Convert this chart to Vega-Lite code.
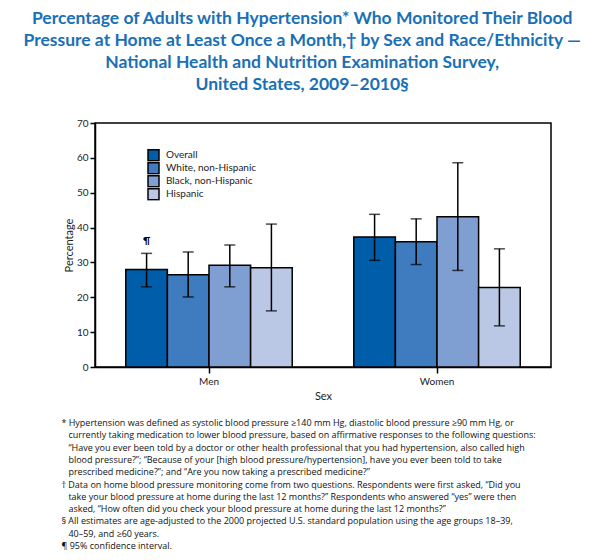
{
  "$schema": "https://vega.github.io/schema/vega-lite/v6.json",
  "background": "white",
  "padding": {"left": 22, "top": 9, "right": 5, "bottom": 5},
  "title": {
    "text": [
      "Percentage of Adults with Hypertension* Who Monitored Their Blood",
      "Pressure at Home at Least Once a Month,† by Sex and Race/Ethnicity —",
      "National Health and Nutrition Examination Survey,",
      "United States, 2009–2010§"
    ],
    "font": "Lato",
    "fontSize": 17.5,
    "fontWeight": "bold",
    "color": "#1A6FB5",
    "lineHeight": 22,
    "anchor": "middle",
    "dx": -4,
    "offset": 24
  },
  "datasets": {
    "bp": [
      {"sex": "Men", "group": "Overall", "value": 28.0, "lo": 23.0, "hi": 32.6, "note": "¶"},
      {"sex": "Men", "group": "White, non-Hispanic", "value": 26.5, "lo": 20.1, "hi": 33.0, "note": ""},
      {"sex": "Men", "group": "Black, non-Hispanic", "value": 29.2, "lo": 23.0, "hi": 35.0, "note": ""},
      {"sex": "Men", "group": "Hispanic", "value": 28.5, "lo": 16.1, "hi": 41.0, "note": ""},
      {"sex": "Women", "group": "Overall", "value": 37.3, "lo": 30.6, "hi": 43.8, "note": ""},
      {"sex": "Women", "group": "White, non-Hispanic", "value": 35.9, "lo": 29.4, "hi": 42.5, "note": ""},
      {"sex": "Women", "group": "Black, non-Hispanic", "value": 43.1, "lo": 27.7, "hi": 58.6, "note": ""},
      {"sex": "Women", "group": "Hispanic", "value": 22.8, "lo": 11.8, "hi": 33.9, "note": ""}
    ]
  },
  "config": {
    "font": "Lato",
    "view": {"stroke": "black", "strokeWidth": 1.5},
    "axis": {
      "grid": false,
      "domainColor": "black",
      "domainWidth": 1.5,
      "tickColor": "black",
      "tickWidth": 1.5,
      "labelColor": "#222",
      "labelFontSize": 10,
      "titleFontSize": 11,
      "titleFontWeight": "normal",
      "titleColor": "#222"
    }
  },
  "vconcat": [
    {
      "width": 456,
      "height": 244,
      "data": {"name": "bp"},
      "title": {
        "text": [
          "* Hypertension was defined as systolic blood pressure ≥140 mm Hg, diastolic blood pressure ≥90 mm Hg, or",
          "\u200b\u00a0\u00a0\u00a0currently taking medication to lower blood pressure, based on affirmative responses to the following questions:",
          "\u200b\u00a0\u00a0\u00a0“Have you ever been told by a doctor or other health professional that you had hypertension, also called high",
          "\u200b\u00a0\u00a0\u00a0blood pressure?”; “Because of your [high blood pressure/hypertension], have you ever been told to take",
          "\u200b\u00a0\u00a0\u00a0prescribed medicine?”; and “Are you now taking a prescribed medicine?”",
          "† Data on home blood pressure monitoring come from two questions. Respondents were first asked, “Did you",
          "\u200b\u00a0\u00a0\u00a0take your blood pressure at home during the last 12 months?” Respondents who answered “yes” were then",
          "\u200b\u00a0\u00a0\u00a0asked, “How often did you check your blood pressure at home during the last 12 months?”",
          "§ All estimates are age-adjusted to the 2000 projected U.S. standard population using the age groups 18–39,",
          "\u200b\u00a0\u00a0\u00a040–59, and ≥60 years.",
          "¶ 95% confidence interval."
        ],
        "orient": "bottom",
        "anchor": "start",
        "font": "Open Sans",
        "fontSize": 9,
        "fontWeight": "normal",
        "color": "#111",
        "lineHeight": 12.3,
        "dx": -2,
        "offset": 18
      },
      "encoding": {
        "x": {
          "field": "sex",
          "type": "nominal",
          "title": "Sex",
          "scale": {"paddingInner": 0.27, "paddingOuter": 0.135},
          "axis": {"labelAngle": 0, "tickSize": 6, "titlePadding": 4, "labelPadding": 3}
        },
        "xOffset": {
          "field": "group",
          "type": "nominal",
          "sort": ["Overall", "White, non-Hispanic", "Black, non-Hispanic", "Hispanic"]
        },
        "y": {
          "field": "value",
          "type": "quantitative",
          "title": "Percentage",
          "scale": {"domain": [0, 70]},
          "axis": {"values": [0, 10, 20, 30, 40, 50, 60, 70], "tickSize": 5, "titlePadding": 2, "labelOverlap": false}
        }
      },
      "layer": [
        {
          "mark": {"type": "bar", "stroke": "black", "strokeWidth": 1.5},
          "encoding": {
            "fill": {
              "field": "group",
              "type": "nominal",
              "scale": {
                "domain": ["Overall", "White, non-Hispanic", "Black, non-Hispanic", "Hispanic"],
                "range": ["#005DAA", "#3E7BBF", "#7F9FD2", "#BAC8E5"]
              },
              "legend": {
                "title": null,
                "orient": "none",
                "legendX": 52,
                "legendY": 26,
                "symbolType": "square",
                "symbolSize": 121,
                "symbolStrokeColor": "black",
                "symbolStrokeWidth": 1.5,
                "labelFontSize": 10,
                "labelColor": "#222",
                "rowPadding": 0,
                "clipHeight": 12.7,
                "labelOffset": 6
              }
            }
          }
        },
        {
          "mark": {"type": "rule", "color": "black", "strokeWidth": 1.5},
          "encoding": {
            "y": {"field": "lo", "type": "quantitative", "title": "Percentage"},
            "y2": {"field": "hi"}
          }
        },
        {
          "mark": {"type": "tick", "color": "black", "thickness": 1.5, "size": 11},
          "encoding": {"y": {"field": "lo", "type": "quantitative", "title": "Percentage"}}
        },
        {
          "mark": {"type": "tick", "color": "black", "thickness": 1.5, "size": 11},
          "encoding": {"y": {"field": "hi", "type": "quantitative", "title": "Percentage"}}
        },
        {
          "mark": {"type": "text", "baseline": "bottom", "dy": -7, "fontSize": 10, "fontWeight": "bold", "color": "black"},
          "encoding": {
            "y": {"field": "hi", "type": "quantitative", "title": "Percentage"},
            "text": {"field": "note"}
          }
        }
      ]
    }
  ]
}
